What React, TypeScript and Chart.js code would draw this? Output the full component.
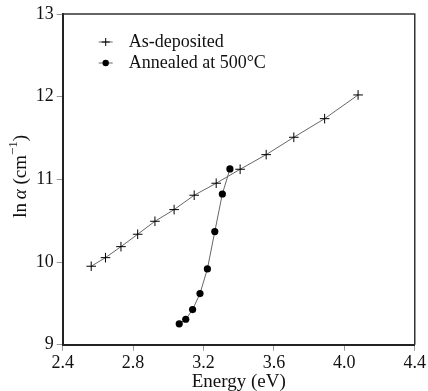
import React, { useEffect, useRef } from "react";
import { Chart, registerables } from "chart.js";

Chart.register(...registerables);

const asDepositedEnergy = [2.562, 2.643, 2.731, 2.826, 2.924, 3.033, 3.147, 3.272, 3.408, 3.556, 3.713, 3.888, 4.078];
const asDepositedLnAlpha = [9.949, 10.053, 10.186, 10.336, 10.493, 10.634, 10.808, 10.953, 11.122, 11.299, 11.509, 11.734, 12.021];
const annealedEnergy = [3.062, 3.099, 3.138, 3.18, 3.222, 3.264, 3.307, 3.35];
const annealedLnAlpha = [9.252, 9.308, 9.425, 9.618, 9.917, 10.368, 10.823, 11.126];
const xTicks = [2.4, 2.8, 3.2, 3.6, 4.0, 4.4];
const yTicks = [9, 10, 11, 12, 13];
const seriesNames = ["As-deposited", "Annealed at 500°C"];
const xTitle = "Energy (eV)";

const FONT = '"Liberation Serif", "DejaVu Serif", serif';

const framePlugin = {
  id: "frame",
  afterDraw(chart: any) {
    const { ctx, chartArea } = chart;
    const { left, right, top, bottom } = chartArea;
    ctx.save();
    ctx.strokeStyle = "#333";
    ctx.lineWidth = 1.5;
    ctx.beginPath();
    ctx.moveTo(left, top);
    ctx.lineTo(right, top);
    ctx.lineTo(right, bottom);
    ctx.stroke();

    // legend
    const rows = [
      { y: top + 28, style: "cross" },
      { y: top + 49, style: "circle" },
    ];
    rows.forEach((r, i) => {
      ctx.strokeStyle = "#666";
      ctx.lineWidth = 1;
      ctx.beginPath();
      ctx.moveTo(left + 36, r.y);
      ctx.lineTo(left + 50, r.y);
      ctx.stroke();
      const cx = left + 43;
      if (r.style === "cross") {
        ctx.strokeStyle = "#000";
        ctx.beginPath();
        ctx.moveTo(cx, r.y - 4);
        ctx.lineTo(cx, r.y + 4);
        ctx.moveTo(cx - 4, r.y);
        ctx.lineTo(cx + 4, r.y);
        ctx.stroke();
      } else {
        ctx.fillStyle = "#000";
        ctx.beginPath();
        ctx.arc(cx, r.y, 3.2, 0, Math.PI * 2);
        ctx.fill();
      }
      ctx.fillStyle = "#111";
      ctx.font = `18px ${FONT}`;
      ctx.textBaseline = "middle";
      ctx.textAlign = "left";
      ctx.fillText(seriesNames[i], left + 66, r.y);
    });

    // x title
    ctx.fillStyle = "#111";
    ctx.font = `19px ${FONT}`;
    ctx.textAlign = "center";
    ctx.textBaseline = "middle";
    ctx.fillText(xTitle, (left + right) / 2, 382);

    // y title: ln α (cm^-1)
    ctx.translate(21, (top + bottom) / 2 - 3);
    ctx.rotate(-Math.PI / 2);
    const main = `19px ${FONT}`;
    const sup = `13px ${FONT}`;
    const parts = [
      { t: "ln", f: main, dy: 0 },
      { t: "\u2009", f: main, dy: 0 },
      { t: "α", f: `italic 19px ${FONT}`, dy: 0 },
      { t: " (cm", f: main, dy: 0 },
      { t: "−1", f: sup, dy: -7 },
      { t: ")", f: main, dy: 0 },
    ];
    let total = 0;
    parts.forEach((p) => {
      ctx.font = p.f;
      total += ctx.measureText(p.t).width;
    });
    let x = -total / 2;
    ctx.textAlign = "left";
    parts.forEach((p) => {
      ctx.font = p.f;
      ctx.fillText(p.t, x, p.dy);
      x += ctx.measureText(p.t).width;
    });
    ctx.restore();
  },
};

export default function App() {
  const ref = useRef<HTMLCanvasElement | null>(null);
  useEffect(() => {
    document.body.style.margin = "0";
    const canvas = ref.current;
    if (!canvas) return;
    const chart = new Chart(canvas, {
      type: "line",
      data: {
        datasets: [
          {
            label: seriesNames[0],
            data: asDepositedEnergy.map((x, i) => ({ x, y: asDepositedLnAlpha[i] })),
            borderColor: "#666",
            borderWidth: 1,
            pointStyle: "cross",
            pointRadius: 4.8,
            pointBorderColor: "#000",
            pointBorderWidth: 1,
            tension: 0,
          },
          {
            label: seriesNames[1],
            data: annealedEnergy.map((x, i) => ({ x, y: annealedLnAlpha[i] })),
            borderColor: "#666",
            borderWidth: 1,
            pointStyle: "circle",
            pointRadius: 3.6,
            pointBackgroundColor: "#000",
            pointBorderColor: "#000",
            pointBorderWidth: 0,
            tension: 0,
          },
        ],
      },
      options: {
        responsive: false,
        animation: false,
        layout: { padding: { top: 14, right: 8.7, left: 0, bottom: 0 } },
        plugins: { legend: { display: false }, tooltip: { enabled: false } },
        scales: {
          x: {
            type: "linear",
            min: 2.4,
            max: 4.4,
            afterBuildTicks: (s: any) => {
              s.ticks = xTicks.map((v) => ({ value: v }));
            },
            afterFit: (s: any) => {
              s.height = 46.3;
            },
            ticks: {
              color: "#111",
              font: { family: FONT, size: 18 },
              padding: 2,
              maxRotation: 0,
              callback: (v: any) => Number(v).toFixed(1),
            },
            grid: { drawOnChartArea: false, drawTicks: true, tickLength: 6, color: "#999" },
            border: { display: true, color: "#222", width: 2 },
          },
          y: {
            type: "linear",
            min: 9,
            max: 13,
            afterBuildTicks: (s: any) => {
              s.ticks = yTicks.map((v) => ({ value: v }));
            },
            afterFit: (s: any) => {
              s.width = 62.7;
            },
            ticks: {
              color: "#111",
              font: { family: FONT, size: 18 },
              padding: 3,
              callback: (v: any) => String(v),
            },
            grid: { drawOnChartArea: false, drawTicks: true, tickLength: 6, color: "#999" },
            border: { display: true, color: "#222", width: 2 },
          },
        },
      },
      plugins: [framePlugin],
    } as any);
    return () => chart.destroy();
  }, []);
  return (
    <div style={{ position: "absolute", left: 0, top: 0, width: 428, height: 391, background: "#fff" }}>
      <canvas ref={ref} width={428} height={391} style={{ width: 428, height: 391 }} />
    </div>
  );
}
